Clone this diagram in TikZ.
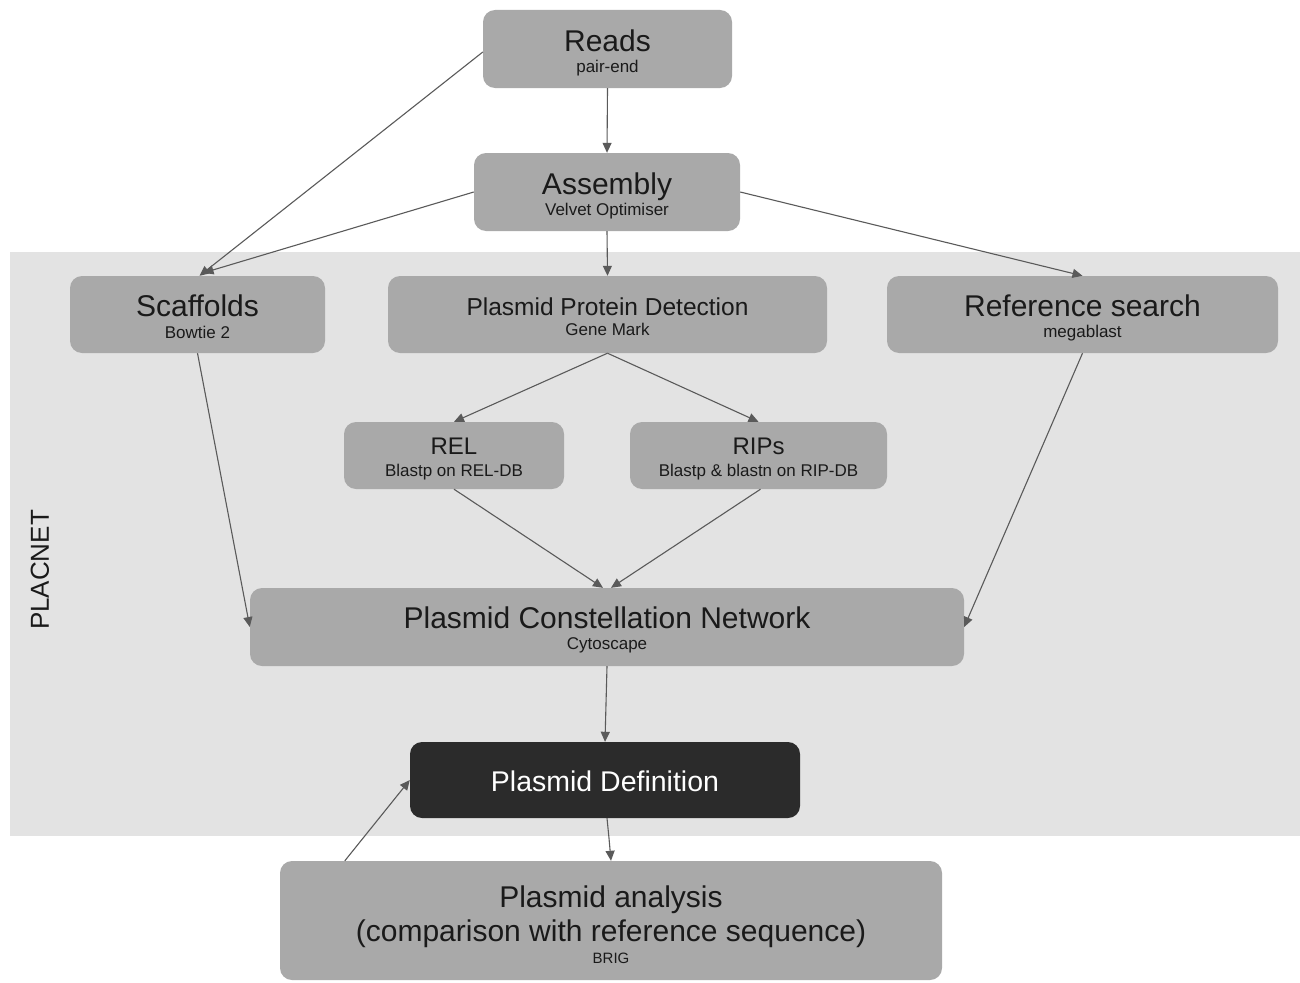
\documentclass[tikz,border=0pt]{standalone}
\usepackage{fontspec}
\setmainfont{Liberation Sans}
\usetikzlibrary{arrows.meta,calc}
\definecolor{boxgray}{HTML}{A9A9A9}
\definecolor{bandgray}{HTML}{E3E3E3}
\definecolor{darkbox}{HTML}{2B2B2B}
\definecolor{arrowgray}{HTML}{5A5A5A}
\definecolor{textdark}{HTML}{1A1A1A}
\begin{document}
\begin{tikzpicture}[x=1pt,y=-1pt,
  box/.style={fill=boxgray,draw=none,rounded corners=12pt,inner sep=0pt},
  darkbx/.style={fill=darkbox,draw=none,rounded corners=12pt,inner sep=0pt},
  ttl/.style={anchor=base,inner sep=0pt,text=textdark,font=\fontsize{30}{36}\selectfont},
  ttlm/.style={anchor=base,inner sep=0pt,text=textdark,font=\fontsize{24.5}{29}\selectfont},
  ttls/.style={anchor=base,inner sep=0pt,text=textdark,font=\fontsize{24}{29}\selectfont},
  sub/.style={anchor=base,inner sep=0pt,text=textdark,font=\fontsize{17}{20}\selectfont},
  subs/.style={anchor=base,inner sep=0pt,text=textdark,font=\fontsize{15}{18}\selectfont},
  arr/.style={draw=arrowgray,line width=1.1pt,-{Triangle[length=10pt,width=9pt]}}
]
\useasboundingbox (0,0) rectangle (1300,982);
\fill[white] (0,0) rectangle (1300,982);
\fill[bandgray] (10,252) rectangle (1300,836);

% boxes
\node[box,minimum width=249pt,minimum height=78pt] (reads) at (607.5,49) {};
\node[box,minimum width=266pt,minimum height=78pt] (asm) at (607,192) {};
\node[box,minimum width=255pt,minimum height=77pt] (scaf) at (197.5,314.5) {};
\node[box,minimum width=439pt,minimum height=77pt] (ppd) at (607.5,314.5) {};
\node[box,minimum width=391pt,minimum height=77pt] (ref) at (1082.5,314.5) {};
\node[box,minimum width=220pt,minimum height=67pt] (rel) at (454,455.5) {};
\node[box,minimum width=257pt,minimum height=67pt] (rips) at (758.5,455.5) {};
\node[box,minimum width=714pt,minimum height=78pt] (pcn) at (607,627) {};
\node[darkbx,minimum width=390pt,minimum height=76pt] (pd) at (605,780) {};
\node[box,minimum width=662pt,minimum height=119pt] (pa) at (611,920.5) {};

% texts
\node[ttl] (readsT) at (607.5,51.5) {Reads};
\node[sub] (readsS) at (607.5,72) {pair-end};
\node[ttl] (asmT) at (607,194.5) {Assembly};
\node[sub] (asmS) at (607,215) {Velvet Optimiser};
\node[ttl] (scafT) at (197.5,316.5) {Scaffolds};
\node[sub] (scafS) at (197.5,338) {Bowtie 2};
\node[ttlm] (ppdT) at (607.5,315) {Plasmid Protein Detection};
\node[sub] (ppdS) at (607.5,335) {Gene Mark};
\node[ttl] (refT) at (1082.5,316.5) {Reference search};
\node[sub] (refS) at (1082.5,337) {megablast};
\node[ttls] (relT) at (454,454.5) {REL};
\node[sub] (relS) at (454,476) {Blastp on REL-DB};
\node[ttls] (ripsT) at (758.5,454.5) {RIPs};
\node[sub] (ripsS) at (758.5,476) {Blastp \& blastn on RIP-DB};
\node[ttl] (pcnT) at (607,628.5) {Plasmid Constellation Network};
\node[sub] (pcnS) at (607,649) {Cytoscape};
\node[anchor=base,inner sep=0pt,text=white,font=\fontsize{28.5}{34}\selectfont] (pdT) at (605,791) {Plasmid Definition};
\node[ttl] (paT1) at (611,907.5) {Plasmid analysis};
\node[ttl] (paT2) at (611,941) {(comparison with reference sequence)};
\node[subs] (paS) at (611,963) {BRIG};
\node[rotate=90,inner sep=0pt,text=textdark,font=\fontsize{26}{30}\selectfont] (placnet) at (40,570) {PLACNET};

% connectors
\coordinate (scafIn1) at ($(scaf.north)+(2,0)$);
\coordinate (scafIn2) at ($(scaf.north)+(6,-3)$);
\draw[arr] ($(reads.west)+(0,3)$) -- (scafIn1);
\draw[arr] (asm.west) -- (scafIn2);
\draw[arr] (reads.south) -- (asm.north);
\draw[arr] (asm.south) -- (ppd.north);
\draw[arr] (asm.east) -- (ref.north);
\draw[arr] (ppd.south) -- (rel.north);
\draw[arr] (ppd.south) -- (rips.north);
\draw[arr] (scaf.south) -- (pcn.west);
\coordinate (pcnIn1) at ($(pcn.north)+(-4,0)$);
\coordinate (pcnIn2) at ($(pcn.north)+(4,0)$);
\draw[arr] (rel.south) -- (pcnIn1);
\draw[arr] ($(rips.south)+(2,0)$) -- (pcnIn2);
\draw[arr] (ref.south) -- (pcn.east);
\draw[arr] (pcn.south) -- (pd.north);
\draw[arr] ($(pd.south)+(2,0)$) -- ($(pd.south)+(4,20)$) -- (pa.north);
\coordinate (paOut) at ($(pa.north west)+(65,0)$);
\draw[arr] (paOut) -- (pd.west);
\end{tikzpicture}
\end{document}
